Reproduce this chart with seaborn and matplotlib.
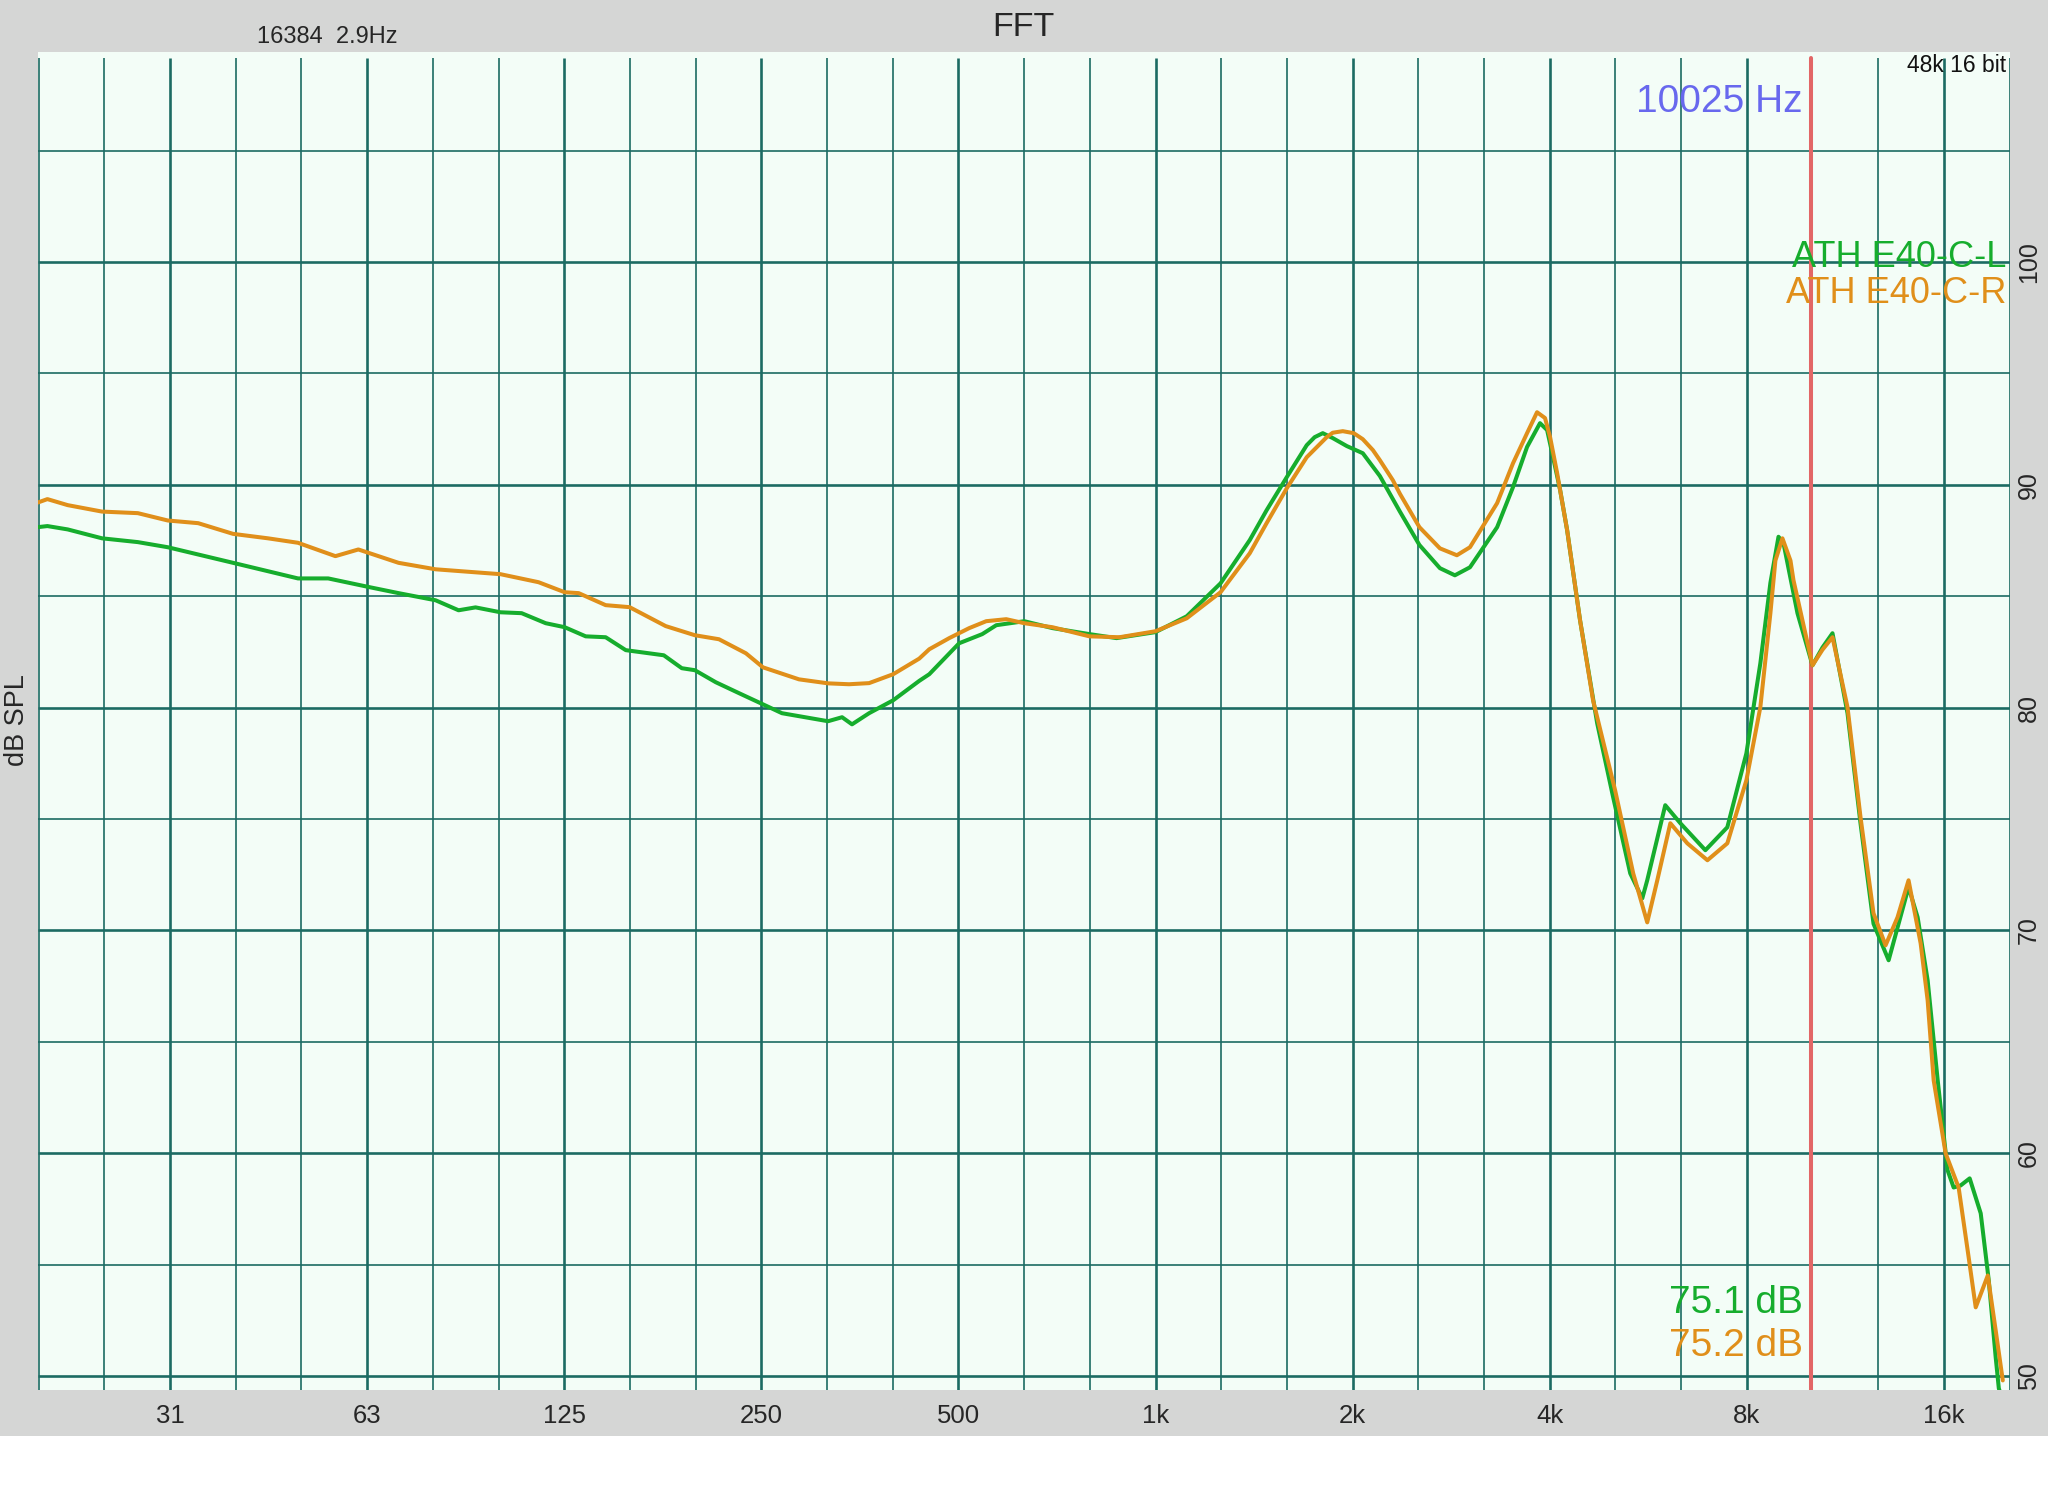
import pandas as pd
import matplotlib
matplotlib.use("Agg")
import matplotlib.pyplot as plt
import seaborn as sns
from matplotlib.patches import Rectangle
from matplotlib.ticker import NullLocator

# FFT sweep of the two earpieces (Hz, dB SPL)
freq_l = [19.6, 20.3, 21.8, 24.6, 27.9, 31.0, 39.0, 49.0, 54.5, 63.2, 69.8, 79.5, 86.2, 91.5,
          99.9, 107.6, 117.1, 125.2, 134.8, 144.6, 155.2, 177.4, 189.0, 197.9, 213.0, 231.1,
          251.4, 268.8, 316.1, 332.1, 343.9, 365.2, 397.5, 435.6, 451.3, 501.3, 543.7, 571.2,
          630.3, 695.9, 792.8, 871.9, 1000, 1116, 1257, 1393, 1478, 1587, 1702, 1750, 1801, 1865,
          1960, 2073, 2201, 2362, 2530, 2719, 2866, 3022, 3325, 3516, 3694, 3866, 3964, 4048,
          4150, 4253, 4451, 4727, 5000, 5310, 5540, 5637, 6006, 6334, 6916, 7471, 7989, 8391,
          8693, 8944, 9100, 9561, 10080, 10441, 10815, 11401, 11935, 12493, 13175, 14132,
          14590, 15113, 15657, 16212, 16560, 16970, 17521, 18214, 18737, 19200, 19412, 19684]
spl_l = [88.1, 88.15, 88.0, 87.6, 87.43, 87.2, 86.5, 85.8, 85.8, 85.4, 85.14, 84.82, 84.37, 84.5,
         84.28, 84.24, 83.79, 83.61, 83.2, 83.16, 82.58, 82.35, 81.77, 81.68, 81.14, 80.65,
         80.15, 79.75, 79.39, 79.57, 79.25, 79.75, 80.33, 81.2, 81.5, 82.89, 83.3, 83.7,
         83.88, 83.57, 83.3, 83.12, 83.39, 84.1, 85.58, 87.52, 88.86, 90.35, 91.78, 92.14, 92.32, 92.1,
         91.74, 91.42, 90.4, 88.8, 87.3, 86.26, 85.94, 86.3, 88.1, 89.9, 91.7, 92.77, 92.46, 91.24,
         89.76, 87.97, 83.92, 79.3, 75.98, 72.56, 71.44, 72.25, 75.62, 74.81, 73.6, 74.63, 77.95, 81.99,
         85.6, 87.67, 87.4, 84.24, 81.9, 82.7, 83.34, 79.75, 74.8, 70.3, 68.66, 71.94,
         70.59, 67.76, 63.27, 59.23, 58.46, 58.55, 58.87, 57.3, 54.29, 50.83, 49.44, 48.9]

freq_r = [19.6, 20.3, 21.8, 24.6, 27.9, 31.0, 34.5, 39.0, 44.1, 49.0, 55.9, 60.6, 69.8, 79.5,
          99.9, 114.2, 125.2, 131.5, 144.6, 157.3, 178.6, 197.9, 215.4, 236.8, 251.4, 285.4,
          316.1, 340.3, 365.2, 397.5, 435.6, 451.3, 484.1, 519.4, 551.3, 591.6, 630.3, 695.9,
          792.8, 880.9, 1000, 1116, 1257, 1393, 1478, 1587, 1702, 1826, 1865, 1932, 2008, 2073, 2148, 2201,
          2304, 2362, 2530, 2719, 2886, 3022, 3325, 3516, 3694, 3826, 3935, 4006, 4106, 4253,
          4451, 4659, 5035, 5366, 5637, 5840, 6114, 6490, 6966, 7471, 7989, 8391, 8693, 8847,
          9069, 9329, 9428, 10080, 10441, 10815, 11401, 11935, 12493, 13034, 13594, 14132,
          14745, 15113, 15437, 16100, 16853, 17459, 17897, 18672, 19200, 19684]
spl_r = [89.2, 89.36, 89.09, 88.8, 88.73, 88.4, 88.28, 87.8, 87.6, 87.4, 86.8, 87.1, 86.5, 86.21,
         85.99, 85.63, 85.18, 85.14, 84.6, 84.51, 83.66, 83.25, 83.07, 82.44, 81.81, 81.27,
         81.09, 81.05, 81.1, 81.5, 82.2, 82.62, 83.12, 83.57, 83.88, 83.97, 83.79, 83.61,
         83.2, 83.16, 83.43, 84.01, 85.18, 86.93, 88.28, 89.85, 91.24, 92.14, 92.34, 92.41, 92.32, 92.05, 91.56, 91.11,
         90.21, 89.6, 88.1, 87.15, 86.84, 87.2, 89.18, 90.97, 92.32, 93.26, 93.0, 92.14, 90.53, 87.97,
         83.92, 80.33, 76.29, 72.56, 70.36, 72.25, 74.81, 73.91, 73.15, 73.91, 76.74, 80.02, 84.24, 86.6,
         87.6, 86.6, 85.72, 81.9, 82.6, 83.16, 80.02, 75.08, 70.77, 69.33, 70.59, 72.25,
         69.42, 66.86, 63.27, 59.99, 58.46, 55.32, 53.08, 54.51, 52.04, 49.8]

channels = ["ATH E40-C-L", "ATH E40-C-R"]
octave_ticks = [31.25, 62.5, 125, 250, 500, 1000, 2000, 4000, 8000, 16000]
octave_labels = ["31", "63", "125", "250", "500", "1k", "2k", "4k", "8k", "16k"]
db_ticks = [50, 60, 70, 80, 90, 100]
cursor_hz = 10025
cursor_readout = ["75.1 dB", "75.2 dB"]

sns.set_theme(style="white")
plt.rcParams['font.family'] = ['Liberation Sans', 'DejaVu Sans']

W, H = 2048, 1496
GRAY = '#d5d6d5'
PLOT_BG = '#f3fdf7'
GRID = '#1c6b63'
GREEN = '#16ad2d'
ORANGE = '#e08f1a'
RED = '#e26666'
INK = '#262626'

XMIN, XMAX = 19.64, 20190
YMIN, YMAX = 49.37, 109.43
GRID_TOP = 109.16

fig = plt.figure(figsize=(W / 100, H / 100), dpi=100, facecolor='white')
fig.add_artist(Rectangle((0, 60 / H), 1, 1 - 60 / H, transform=fig.transFigure,
                         facecolor=GRAY, edgecolor='none', zorder=-5))

ax = fig.add_axes([38 / W, 106 / H, 1972 / W, 1338 / H])
ax.set_facecolor(PLOT_BG)
ax.set_xscale('log')
ax.set_xlim(XMIN, XMAX)
ax.set_ylim(YMIN, YMAX)
ax.grid(False)
for s in ax.spines.values():
    s.set_visible(False)

# third-octave grid, octaves a bit heavier
for n in range(-17, 14):
    f = 1000 * 2 ** (n / 3)
    ax.vlines(f, YMIN, GRID_TOP, color=GRID, lw=1.9 if n % 3 == 0 else 1.2, zorder=1)
for db in range(50, 110, 5):
    ax.hlines(db, XMIN, 1000 * 2 ** (13 / 3), color=GRID, lw=1.9 if db % 10 == 0 else 1.2, zorder=1)

ax.axvline(cursor_hz, ymax=(GRID_TOP - YMIN) / (YMAX - YMIN), color=RED, lw=2.9, zorder=3)

df = pd.concat([
    pd.DataFrame({'freq': freq_l, 'spl': spl_l, 'channel': channels[0]}),
    pd.DataFrame({'freq': freq_r, 'spl': spl_r, 'channel': channels[1]}),
])
sns.lineplot(data=df, x='freq', y='spl', hue='channel', hue_order=channels,
             palette=[GREEN, ORANGE], estimator=None, sort=False, lw=2.9,
             legend=False, ax=ax, zorder=4)
for ln in ax.get_lines():
    ln.set_solid_joinstyle('round')
ax.set_xlabel('')
ax.set_ylabel('')

ax.set_xticks(octave_ticks, octave_labels)
ax.xaxis.set_minor_locator(NullLocator())
ax.tick_params(axis='x', length=0, pad=10.4, labelsize=18.5, labelcolor=INK)
ax.yaxis.tick_right()
ax.set_yticks(db_ticks, [str(d) for d in db_ticks])
ax.tick_params(axis='y', length=0, pad=5, labelsize=18, labelrotation=90, labelcolor=INK)
for lab in ax.get_yticklabels():
    lab.set_va('center')

# header / overlay text
fig.text(1023 / W, 1 - 36 / H, "FFT", ha='center', va='baseline', fontsize=24.5, color=INK)
fig.text(257 / W, 1 - 43 / H, "16384  2.9Hz", ha='left', va='baseline', fontsize=17, color=INK)
fig.text(2006 / W, 1 - 72 / H, "48k 16 bit", ha='right', va='baseline', fontsize=16.5,
         color='#111111', zorder=6)
fig.text(1802 / W, 1 - 112 / H, f"{cursor_hz} Hz", ha='right', va='baseline', fontsize=28,
         color='#6868ee', zorder=6)
fig.text(2006 / W, 1 - 267 / H, channels[0], ha='right', va='baseline', fontsize=26, color=GREEN, zorder=6)
fig.text(2006 / W, 1 - 303 / H, channels[1], ha='right', va='baseline', fontsize=26, color=ORANGE, zorder=6)
fig.text(1803 / W, 1 - 1313 / H, cursor_readout[0], ha='right', va='baseline', fontsize=28, color=GREEN, zorder=6)
fig.text(1803 / W, 1 - 1356 / H, cursor_readout[1], ha='right', va='baseline', fontsize=28, color=ORANGE, zorder=6)
fig.text(17 / W, 1 - 720 / H, "dB SPL", rotation=90, ha='center', va='center', fontsize=19.5, color=INK)

fig.savefig("out.png", dpi=100, facecolor=fig.get_facecolor())
